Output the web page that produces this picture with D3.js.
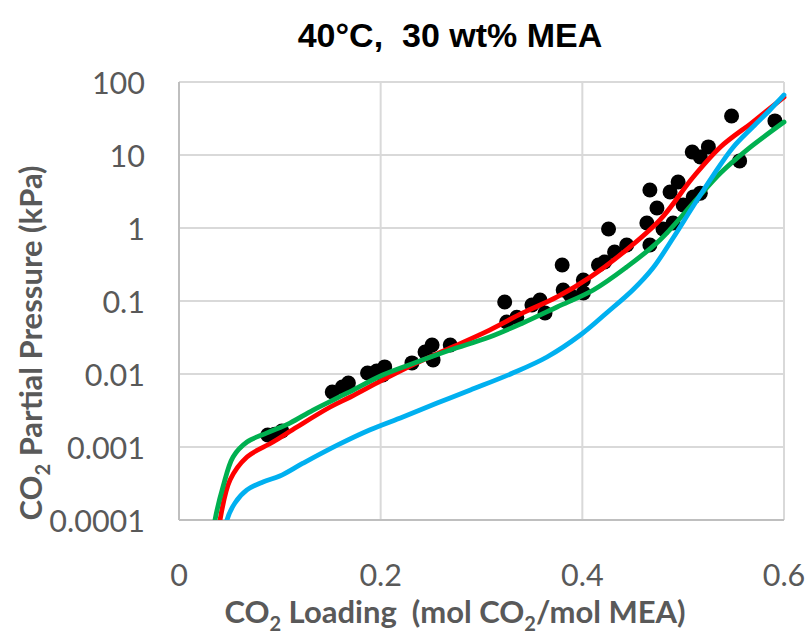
<!DOCTYPE html>
<html><head><meta charset="utf-8">
<script src="https://cdn.jsdelivr.net/npm/d3@7"></script>
<style>
html,body{margin:0;padding:0;background:#fff;}
svg{display:block;}
</style></head>
<body>
<svg id="chart" width="809" height="639"></svg>
<script>
// ---- data ----
const title = "40°C,  30 wt% MEA";
const xTicks = [0, 0.2, 0.4, 0.6];
const yTicks = [0.0001, 0.001, 0.01, 0.1, 1, 10, 100];
const yTickLabels = ["0.0001", "0.001", "0.01", "0.1", "1", "10", "100"];

// experimental points (loading, kPa)
const expLoading = [0.088,0.095,0.102,0.152,0.162,0.168,0.187,0.196,0.204,0.202,0.231,0.244,0.251,0.252,0.269,
  0.323,0.325,0.335,0.350,0.358,0.363,0.380,0.381,0.388,0.401,0.401,0.416,0.422,0.426,0.432,0.444,
  0.464,0.467,0.467,0.474,0.480,0.487,0.490,0.495,0.500,0.510,0.517,0.509,0.517,0.525,0.556,0.548,0.591];
const expPressure = [0.00146,0.0015,0.00166,0.00566,0.00664,0.00754,0.0103,0.011,0.0125,0.0097,0.0142,0.020,0.025,0.0156,0.025,
  0.097,0.0515,0.060,0.088,0.103,0.0686,0.311,0.1416,0.121,0.194,0.129,0.311,0.342,0.97,0.469,0.585,
  1.17,0.585,3.32,1.88,0.97,3.11,1.17,4.27,2.07,2.66,3.0,11.0,9.4,12.9,8.3,34.2,29.3];

// model curves
const redLoading  = [0.037,0.0407,0.0506,0.0674,0.0932,0.117,0.150,0.170,0.202,0.236,0.269,0.308,0.341,0.375,0.408,0.440,0.477,0.510,0.537,0.569,0.600];
const redPressure = [0.00004,0.0001,0.000353,0.00073,0.00117,0.00188,0.00353,0.00484,0.00828,0.0142,0.0227,0.040,0.0686,0.1135,0.213,0.455,1.29,5.0,12.9,28.3,62];

const greenLoading  = [0.032,0.0357,0.0436,0.0536,0.0674,0.0873,0.110,0.133,0.167,0.202,0.236,0.269,0.308,0.341,0.375,0.411,0.444,0.477,0.510,0.537,0.563,0.600];
const greenPressure = [0.00004,0.0001,0.000283,0.00073,0.00117,0.00156,0.00213,0.00321,0.0055,0.0097,0.0146,0.0213,0.0321,0.050,0.0828,0.1416,0.292,0.685,2.2,5.67,11.7,28.3];

const blueLoading  = [0.0445,0.0476,0.0555,0.0674,0.0833,0.100,0.123,0.157,0.189,0.222,0.256,0.289,0.331,0.365,0.398,0.424,0.450,0.470,0.490,0.510,0.530,0.549,0.569,0.586,0.600];
const bluePressure = [0.00005,0.0001,0.000171,0.000258,0.000332,0.0004,0.0006,0.00106,0.00171,0.00258,0.004,0.00604,0.0103,0.0171,0.0342,0.0686,0.1416,0.283,0.73,2.0,5.3,12.5,24.2,41.3,66.4];

// ---- layout ----
const svg = d3.select("#chart");
const L = 179, R = 784, T = 82, B = 520;
const x = d3.scaleLinear().domain([0, 0.6]).range([L, R]);
const y = d3.scaleLog().domain([0.0001, 100]).range([B, T]);

const gridColor = "#d9d9d9", axisColor = "#bfbfbf", textColor = "#595959";
const fontFam = "Lato, 'Open Sans', sans-serif";

// gridlines
svg.append("g").selectAll("line").data(yTicks).join("line")
  .attr("x1", L).attr("x2", R).attr("y1", d => y(d)).attr("y2", d => y(d))
  .attr("stroke", gridColor).attr("stroke-width", 2);
svg.append("g").selectAll("line").data(xTicks.slice(1)).join("line")
  .attr("x1", d => x(d)).attr("x2", d => x(d)).attr("y1", T).attr("y2", B)
  .attr("stroke", gridColor).attr("stroke-width", 2);
// axis lines
svg.append("line").attr("x1", L).attr("x2", L).attr("y1", T).attr("y2", B)
  .attr("stroke", axisColor).attr("stroke-width", 2);
svg.append("line").attr("x1", L).attr("x2", R).attr("y1", B).attr("y2", B)
  .attr("stroke", axisColor).attr("stroke-width", 2);

// tick labels
svg.append("g").selectAll("text").data(yTicks).join("text")
  .attr("x", 145).attr("y", d => y(d)).attr("dy", "0.38em")
  .attr("text-anchor", "end").attr("font-family", fontFam).attr("font-size", 30.5)
  .attr("fill", textColor).text((d, i) => yTickLabels[i]);
svg.append("g").selectAll("text").data(xTicks).join("text")
  .attr("x", d => x(d)).attr("y", 586)
  .attr("text-anchor", "middle").attr("font-family", fontFam).attr("font-size", 30.5)
  .attr("fill", textColor).text(d => d === 0 ? "0" : d3.format(".1f")(d));

// clip
svg.append("clipPath").attr("id", "plotclip").append("rect")
  .attr("x", L).attr("y", T - 10).attr("width", R - L + 10).attr("height", B - T + 10);

const plot = svg.append("g").attr("clip-path", "url(#plotclip)");

// experimental points
plot.append("g").selectAll("circle").data(expLoading).join("circle")
  .attr("cx", d => x(d)).attr("cy", (d, i) => y(expPressure[i])).attr("r", 7.5)
  .attr("fill", "#000");

const line = d3.line().x(d => x(d[0])).y(d => y(d[1])).curve(d3.curveCatmullRom.alpha(0.5));
const series = [
  {lx: redLoading, ly: redPressure, color: "#ff0000"},
  {lx: greenLoading, ly: greenPressure, color: "#00b050"},
  {lx: blueLoading, ly: bluePressure, color: "#00b0f0"}
];
series.forEach(s => {
  plot.append("path").datum(s.lx.map((v, i) => [v, s.ly[i]]))
    .attr("d", line).attr("fill", "none").attr("stroke", s.color)
    .attr("stroke-width", 4.8).attr("stroke-linejoin", "round").attr("stroke-linecap", "round");
});

// title
svg.append("text").attr("x", 450).attr("y", 47).attr("text-anchor", "middle")
  .attr("font-family", "'Liberation Sans', Arial, sans-serif").attr("font-weight", "bold")
  .attr("font-size", 34).attr("fill", "#000").attr("xml:space", "preserve").text(title);

// y axis title
const yt = svg.append("text").attr("transform", "translate(42,343) rotate(-90)")
  .attr("text-anchor", "middle").attr("font-family", fontFam).attr("font-weight", "bold")
  .attr("font-size", 31).attr("fill", textColor);
yt.append("tspan").text("CO");
yt.append("tspan").attr("font-size", 20).attr("dy", 8).text("2");
yt.append("tspan").attr("dy", -8).text(" Partial Pressure (kPa)");

// x axis title
const xt = svg.append("text").attr("x", 455).attr("y", 623)
  .attr("text-anchor", "middle").attr("font-family", fontFam).attr("font-weight", "bold")
  .attr("font-size", 31).attr("fill", textColor);
xt.append("tspan").text("CO");
xt.append("tspan").attr("font-size", 20).attr("dy", 8).text("2");
xt.append("tspan").attr("dy", -8).text(" Loading\u00a0 (mol CO");
xt.append("tspan").attr("font-size", 20).attr("dy", 8).text("2");
xt.append("tspan").attr("dy", -8).text("/mol MEA)");
</script>
</body></html>
